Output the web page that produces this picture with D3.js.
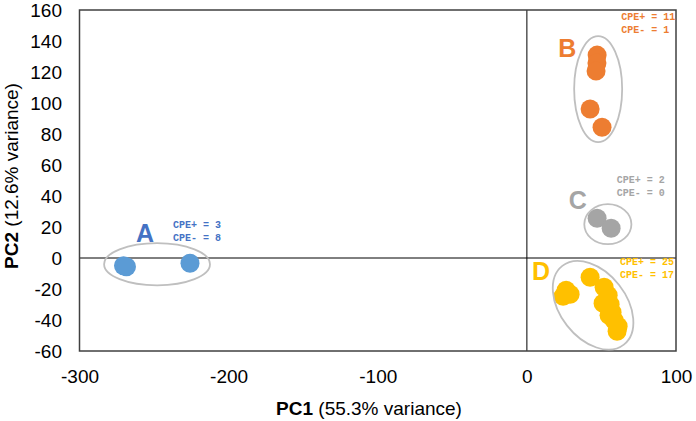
<!DOCTYPE html>
<html>
<head>
<meta charset="utf-8">
<script src="https://cdn.jsdelivr.net/npm/d3@7"></script>
<style>
  html, body { margin: 0; padding: 0; background: #fff; }
  svg { display: block; }
</style>
</head>
<body>
<svg id="chart" width="696" height="421"></svg>
<script>
// ---- data ----
const xTicks = [-300, -200, -100, 0, 100];
const yTicks = [-60, -40, -20, 0, 20, 40, 60, 80, 100, 120, 140, 160];
const xTitleBold = "PC1";
const xTitleRest = " (55.3% variance)";
const yTitleBold = "PC2";
const yTitleRest = " (12.6% variance)";

const groups = ["A", "B", "C", "D"];
const cpePlus = [3, 11, 2, 25];
const cpeMinus = [8, 1, 0, 17];

const pointsA = [[-270.5, -5.0], [-268.5, -5.6], [-225.9, -3.4]];
const pointsB = [[47.1, 130.9], [47.0, 125.8], [46.4, 120.6], [42.4, 96.1], [50.4, 84.4]];
const pointsC = [[47.1, 25.7], [56.5, 19.2]];
const pointsD = [[24.3, -24.7], [26.3, -20.8], [29.0, -23.4], [42.4, -12.4], [51.8, -18.9],
                 [54.5, -24.0], [51.1, -29.2], [55.8, -29.8], [57.1, -35.0], [55.1, -37.0],
                 [58.5, -40.2], [61.2, -44.0], [60.5, -47.3]];
const groupPoints = [pointsA, pointsB, pointsC, pointsD];

// ellipses: center x, center y, half-width (x units), half-height (y units), rotation (deg)
const ellipseCx = [-248, 47.8, 54.3, 44.4];
const ellipseCy = [-4, 109, 21.8, -30.5];
const ellipseRx = [35.5, 16.1, 15.8, 33.5];
const ellipseRy = [13.6, 34.2, 12.9, 21.3];
const ellipseRot = [0, 0, 0, 52];

// ---- styles ----
const pointColors = ["#5B9BD5", "#ED7D31", "#A5A5A5", "#FFC000"];
const labelColors = ["#4472C4", "#ED7D31", "#A5A5A5", "#FFC000"];
// letter label anchor (px offset from ellipse centre) and count text position
const letterPos = [[-12, -31], [-31, -41], [-30, -24], [-52, -34]];
const countPos = [[16, -36], [23, -69], [9, -41], [27, -40]];

const svg = d3.select("#chart");
const pLeft = 79.5, pRight = 676, pTop = 10, pBottom = 351;
const x = d3.scaleLinear().domain([-300, 100]).range([pLeft, pRight]);
const y = d3.scaleLinear().domain([-60, 160]).range([pBottom, pTop]);
const fmt = d => String(d);
const sans = "'Liberation Sans', Arial, sans-serif";

// zero lines
svg.append("line").attr("x1", x(0)).attr("x2", x(0)).attr("y1", pTop).attr("y2", pBottom)
  .attr("stroke", "#000").attr("stroke-width", 1);
svg.append("line").attr("x1", pLeft).attr("x2", pRight).attr("y1", y(0)).attr("y2", y(0))
  .attr("stroke", "#000").attr("stroke-width", 1);

// frame
svg.append("rect").attr("x", pLeft).attr("y", pTop).attr("width", pRight - pLeft).attr("height", pBottom - pTop)
  .attr("fill", "none").attr("stroke", "#404040").attr("stroke-width", 1.5);

// axes (tick labels only)
const xAxis = d3.axisBottom(x).tickValues(xTicks).tickSize(0).tickPadding(0).tickFormat(fmt);
const gx = svg.append("g").attr("transform", `translate(0,${pBottom})`).call(xAxis);
gx.select(".domain").remove();
gx.selectAll("text").attr("dy", null).attr("y", 32)
  .style("font-family", sans).style("font-size", "19px").attr("fill", "#000");

const yAxis = d3.axisLeft(y).tickValues(yTicks).tickSize(0).tickPadding(0).tickFormat(fmt);
const gy = svg.append("g").attr("transform", `translate(${pLeft},0)`).call(yAxis);
gy.select(".domain").remove();
gy.selectAll("text").attr("x", -17.5).attr("dy", "0.36em")
  .style("font-family", sans).style("font-size", "19px").attr("fill", "#000");

// axis titles
const xt = svg.append("text").attr("x", 369).attr("y", 415).attr("text-anchor", "middle")
  .style("font-family", sans).style("font-size", "19px");
xt.append("tspan").attr("font-weight", "bold").text(xTitleBold);
xt.append("tspan").text(xTitleRest);

const yt = svg.append("text").attr("transform", "translate(18,176) rotate(-90)").attr("text-anchor", "middle")
  .style("font-family", sans).style("font-size", "19px");
yt.append("tspan").attr("font-weight", "bold").text(yTitleBold);
yt.append("tspan").text(yTitleRest);

const kx = Math.abs(x(1) - x(0)), ky = Math.abs(y(1) - y(0));

groups.forEach((g, i) => {
  const cx = x(ellipseCx[i]), cy = y(ellipseCy[i]);
  // points
  svg.append("g").selectAll("circle").data(groupPoints[i]).join("circle")
    .attr("cx", d => x(d[0])).attr("cy", d => y(d[1])).attr("r", 9.5)
    .attr("fill", pointColors[i]);
  // ellipse
  svg.append("ellipse").attr("cx", cx).attr("cy", cy)
    .attr("rx", ellipseRx[i] * kx).attr("ry", ellipseRy[i] * ky)
    .attr("transform", `rotate(${ellipseRot[i]},${cx},${cy})`)
    .attr("fill", "none").attr("stroke", "#BFBFBF").attr("stroke-width", 1.8);
  // letter
  svg.append("text").attr("x", cx + letterPos[i][0]).attr("y", cy + letterPos[i][1])
    .attr("text-anchor", "middle").attr("dy", "0.35em")
    .style("font-family", sans).style("font-size", "25px")
    .style("font-weight", "bold").attr("fill", labelColors[i]).text(g);
  // counts
  const t = svg.append("text").attr("x", cx + countPos[i][0]).attr("y", cy + countPos[i][1])
    .style("font-family", "'Liberation Mono', 'Courier New', monospace").style("font-size", "10px")
    .style("font-weight", "bold").attr("fill", labelColors[i]);
  t.append("tspan").attr("x", cx + countPos[i][0]).attr("dy", 0).text(`CPE+ = ${cpePlus[i]}`);
  t.append("tspan").attr("x", cx + countPos[i][0]).attr("dy", 12.5).text(`CPE- = ${cpeMinus[i]}`);
});
</script>
</body>
</html>
